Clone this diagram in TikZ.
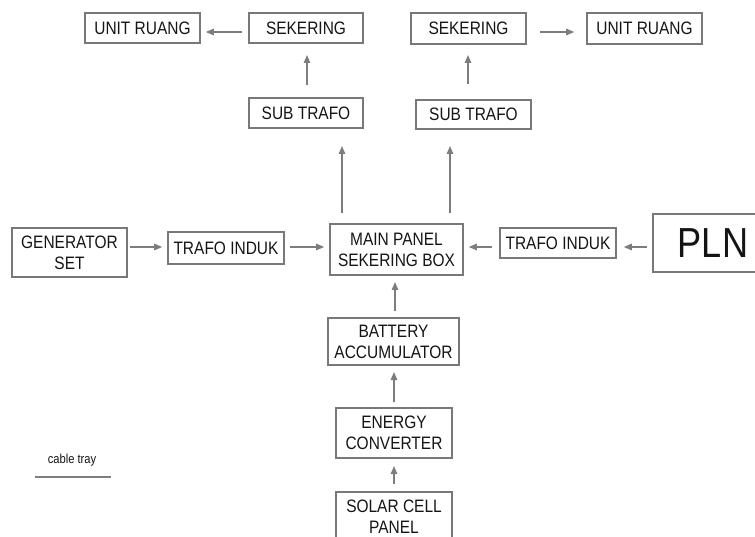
\documentclass[tikz,border=0pt]{standalone}
\usepackage{fontspec}
\setmainfont{Liberation Sans}[FakeStretch=0.86]
\usetikzlibrary{arrows.meta}
\definecolor{boxc}{RGB}{120,120,120}
\definecolor{arrc}{RGB}{125,125,125}
\definecolor{txtc}{RGB}{20,20,20}
\tikzset{
  blk/.style={draw=boxc, line width=1.6pt, inner sep=0pt, text=txtc, align=center,
    font=\fontsize{18}{21}\selectfont},
  arr/.style={draw=arrc, line width=1.3pt, -{Triangle[length=8pt,width=6.5pt]}},
}
\begin{document}
\begin{tikzpicture}[x=1pt,y=-1pt]
\useasboundingbox (0,0) rectangle (755,537);
% top left
\node[blk, minimum width=115pt, minimum height=30pt] (ur1) at (142.5,28) {UNIT RUANG};
\node[blk, minimum width=114pt, minimum height=30pt] (sk1) at (306,28) {SEKERING};
\node[blk, minimum width=114pt, minimum height=30pt] (st1) at (306,113) {SUB TRAFO};
% top right
\node[blk, minimum width=115pt, minimum height=31pt] (sk2) at (468.5,28.5) {SEKERING};
\node[blk, minimum width=115pt, minimum height=31pt] (ur2) at (644.5,28.5) {UNIT RUANG};
\node[blk, minimum width=115pt, minimum height=29pt] (st2) at (473.5,114.5) {SUB TRAFO};
% middle row
\node[blk, minimum width=115pt, minimum height=49pt] (gen) at (69.5,252.5) {GENERATOR\\SET};
\node[blk, minimum width=116pt, minimum height=32pt] (ti1) at (226,248) {TRAFO INDUK};
\node[blk, minimum width=133pt, minimum height=51pt] (main) at (396.5,249.5) {MAIN PANEL\\SEKERING BOX};
\node[blk, minimum width=116pt, minimum height=30pt] (ti2) at (558,243) {TRAFO INDUK};
\node[blk, minimum width=120pt, minimum height=58pt, font=\fontsize{42}{46}\selectfont] (pln) at (713,243) {PLN};
% bottom column
\node[blk, minimum width=131pt, minimum height=47pt] (bat) at (393.5,341.5) {BATTERY\\ACCUMULATOR};
\node[blk, minimum width=116pt, minimum height=50pt] (ec) at (394,433) {ENERGY\\CONVERTER};
\node[blk, minimum width=116pt, minimum height=50pt] (sc) at (394,517) {SOLAR CELL\\PANEL};
% legend
\node[text=txtc, font=\fontsize{13}{15}\selectfont] (ct) at (72,460) {cable tray};
\coordinate (ctl) at (35,477);
\coordinate (ctr) at (111,477);
\draw[draw=arrc, line width=1.6pt] (ctl) -- (ctr);
% connector end points
\coordinate (a1s) at (307,85);  \coordinate (a1e) at (307,55);
\coordinate (a2s) at (468,84);  \coordinate (a2e) at (468,55);
\coordinate (m1s) at (342,213); \coordinate (m1e) at (342,146);
\coordinate (m2s) at (450,213); \coordinate (m2e) at (450,146);
\coordinate (b1s) at (395,311); \coordinate (b1e) at (395,282);
\coordinate (b2s) at (394,402); \coordinate (b2e) at (394,372);
\coordinate (b3s) at (394,484); \coordinate (b3e) at (394,466);
% connectors
\draw[arr] ([xshift=-6pt,yshift=-4pt]sk1.west) -- ([xshift=5pt,yshift=-4pt]ur1.east);
\draw[arr] ([xshift=13pt,yshift=-3.5pt]sk2.east) -- ([xshift=-12pt,yshift=-3.5pt]ur2.west);
\draw[arr] (a1s) -- (a1e);
\draw[arr] (a2s) -- (a2e);
\draw[arr] (m1s) -- (m1e);
\draw[arr] (m2s) -- (m2e);
\draw[arr] ([xshift=2pt]gen.east |- 0,247) -- ([xshift=-5pt]ti1.west |- 0,247);
\draw[arr] ([xshift=5pt]ti1.east |- 0,247) -- ([xshift=-5pt]main.west |- 0,247);
\draw[arr] ([xshift=-7pt]ti2.west |- 0,247) -- ([xshift=5pt]main.east |- 0,247);
\draw[arr] ([xshift=-5pt]pln.west |- 0,247) -- ([xshift=7pt]ti2.east |- 0,247);
\draw[arr] (b1s) -- (b1e);
\draw[arr] (b2s) -- (b2e);
\draw[arr] (b3s) -- (b3e);
\end{tikzpicture}
\end{document}
